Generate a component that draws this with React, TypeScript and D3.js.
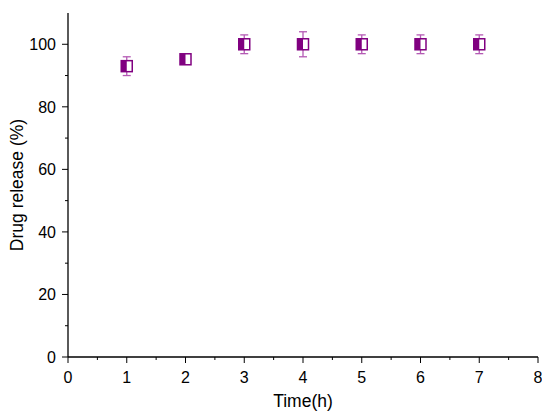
import { useRef, useEffect } from "react";
import * as d3 from "d3";

const times = [1, 2, 3, 4, 5, 6, 7];
const release = [93, 95.2, 100, 100, 100, 100, 100];
const errors = [3, 1.6, 3, 4, 3, 3, 3];
const xTicks = [0, 1, 2, 3, 4, 5, 6, 7, 8];
const yTicks = [0, 20, 40, 60, 80, 100];

const W = 550;
const H = 420;
const margin = { top: 13, right: 12, bottom: 63, left: 68 };
const purple = "#800080";
const errColor = "#b45ab4";

export default function App() {
  const svgRef = useRef<SVGSVGElement>(null);

  useEffect(() => {
    const svg = d3.select(svgRef.current);
    svg.selectAll("*").remove();

    const x = d3.scaleLinear().domain([0, 8]).range([margin.left, W - margin.right]);
    const y = d3.scaleLinear().domain([0, 110]).range([H - margin.bottom, margin.top]);

    const font = "'Liberation Sans', Arial, sans-serif";

    // x axis
    const xAxis = svg.append("g").attr("transform", `translate(0,${y(0)})`);
    xAxis.append("line").attr("x1", x(0)).attr("x2", x(8)).attr("stroke", "#000").attr("stroke-width", 1.3);
    xAxis
      .selectAll("line.minor")
      .data(d3.range(0.5, 8, 1))
      .join("line")
      .attr("class", "minor")
      .attr("x1", (d) => x(d))
      .attr("x2", (d) => x(d))
      .attr("y1", 0)
      .attr("y2", 3)
      .attr("stroke", "#000");
    xAxis
      .selectAll("line.major")
      .data(xTicks)
      .join("line")
      .attr("class", "major")
      .attr("x1", (d) => x(d))
      .attr("x2", (d) => x(d))
      .attr("y1", 0)
      .attr("y2", 6)
      .attr("stroke", "#000");
    xAxis
      .selectAll("text")
      .data(xTicks)
      .join("text")
      .attr("x", (d) => x(d))
      .attr("y", 26)
      .attr("text-anchor", "middle")
      .attr("font-family", font)
      .attr("font-size", 16)
      .text((d) => d);

    // y axis
    const yAxis = svg.append("g").attr("transform", `translate(${x(0)},0)`);
    yAxis.append("line").attr("y1", y(0)).attr("y2", y(110)).attr("stroke", "#000").attr("stroke-width", 1.3);
    yAxis
      .selectAll("line.minor")
      .data(d3.range(10, 110, 20))
      .join("line")
      .attr("class", "minor")
      .attr("y1", (d) => y(d))
      .attr("y2", (d) => y(d))
      .attr("x1", 0)
      .attr("x2", -3)
      .attr("stroke", "#000");
    yAxis
      .selectAll("line.major")
      .data(yTicks)
      .join("line")
      .attr("class", "major")
      .attr("y1", (d) => y(d))
      .attr("y2", (d) => y(d))
      .attr("x1", 0)
      .attr("x2", -6)
      .attr("stroke", "#000");
    yAxis
      .selectAll("text")
      .data(yTicks)
      .join("text")
      .attr("x", -12)
      .attr("y", (d) => y(d))
      .attr("dy", "0.36em")
      .attr("text-anchor", "end")
      .attr("font-family", font)
      .attr("font-size", 16)
      .text((d) => d);

    // titles
    svg
      .append("text")
      .attr("x", (x(0) + x(8)) / 2)
      .attr("y", 407)
      .attr("text-anchor", "middle")
      .attr("font-family", font)
      .attr("font-size", 17.5)
      .text("Time(h)");
    svg
      .append("text")
      .attr("transform", `translate(23,${(y(0) + y(110)) / 2}) rotate(-90)`)
      .attr("text-anchor", "middle")
      .attr("font-family", font)
      .attr("font-size", 17.5)
      .text("Drug release (%)");

    // error bars
    const pts = times.map((t, i) => ({ t, v: release[i], e: errors[i] }));
    const eb = svg.append("g").attr("stroke", errColor).attr("stroke-width", 1.3);
    pts.forEach((p) => {
      const cx = x(p.t);
      eb.append("line").attr("x1", cx).attr("x2", cx).attr("y1", y(p.v + p.e)).attr("y2", y(p.v - p.e));
      eb.append("line").attr("x1", cx - 4).attr("x2", cx + 4).attr("y1", y(p.v + p.e)).attr("y2", y(p.v + p.e));
      eb.append("line").attr("x1", cx - 4).attr("x2", cx + 4).attr("y1", y(p.v - p.e)).attr("y2", y(p.v - p.e));
    });

    // half-filled square markers
    const s = 11;
    const mk = svg.append("g");
    pts.forEach((p) => {
      const cx = x(p.t);
      const cy = y(p.v);
      mk.append("rect")
        .attr("x", cx - s / 2)
        .attr("y", cy - s / 2)
        .attr("width", s)
        .attr("height", s)
        .attr("fill", "#fff")
        .attr("stroke", purple)
        .attr("stroke-width", 1.5);
      mk.append("rect")
        .attr("x", cx - s / 2)
        .attr("y", cy - s / 2)
        .attr("width", s / 2)
        .attr("height", s)
        .attr("fill", purple);
    });
  }, []);

  return <svg ref={svgRef} width={W} height={H} style={{ display: "block", margin: -8 }} />;
}
